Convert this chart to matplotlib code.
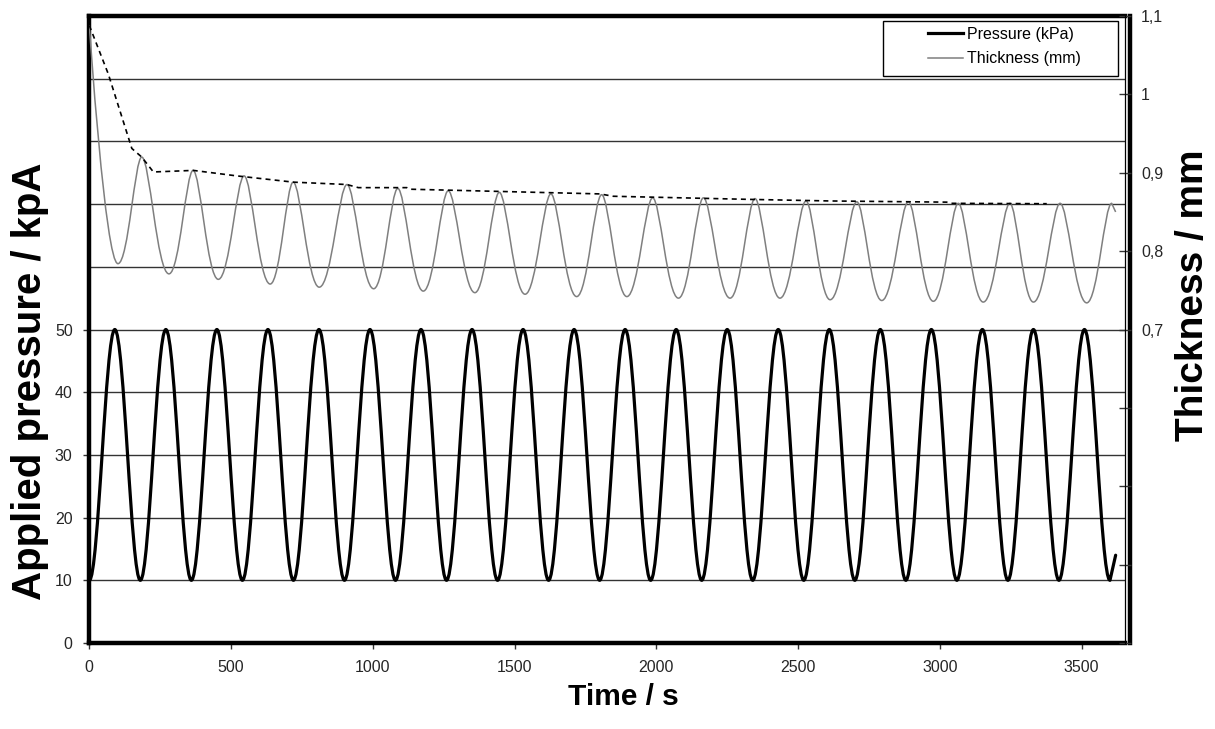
import matplotlib
matplotlib.use("Agg")
import matplotlib.pyplot as plt
from matplotlib.lines import Line2D
from matplotlib.patches import PathPatch, Rectangle
from matplotlib.path import Path

plt.rcParams['font.family'] = ['Liberation Sans', 'DejaVu Sans']

# Applied pressure: turning points of the 10-50 kPa load cycle (s, kPa).
# The record stops shortly after the last trough.
PRESSURE_T = [0, 90, 180, 270, 360, 450, 540, 630, 720, 810, 900, 990, 1080, 1170,
              1260, 1350, 1440, 1530, 1620, 1710, 1800, 1890, 1980, 2070, 2160, 2250,
              2340, 2430, 2520, 2610, 2700, 2790, 2880, 2970, 3060, 3150, 3240, 3330,
              3420, 3510, 3600, 3620]
PRESSURE_KPA = [10, 50, 10, 50, 10, 50, 10, 50, 10, 50, 10, 50, 10, 50,
                10, 50, 10, 50, 10, 50, 10, 50, 10, 50, 10, 50,
                10, 50, 10, 50, 10, 50, 10, 50, 10, 50, 10, 50,
                10, 50, 10, 14]

# Sample thickness: starting value, then alternating troughs / crests (s, mm)
THICKNESS_T = [0, 101, 185, 281, 366, 455, 546, 638, 719, 811, 909, 1003, 1088, 1178,
               1266, 1360, 1446, 1537, 1628, 1719, 1807, 1896, 1987, 2078, 2166, 2260,
               2348, 2436, 2528, 2613, 2707, 2795, 2889, 2977, 3065, 3153, 3247, 3330,
               3424, 3518, 3606, 3620]
THICKNESS_MM = [1.088, 0.784, 0.920, 0.771, 0.903, 0.764, 0.896, 0.758, 0.888, 0.754,
                0.885, 0.752, 0.880, 0.749, 0.877, 0.747, 0.875, 0.745, 0.873, 0.742,
                0.872, 0.742, 0.868, 0.740, 0.868, 0.740, 0.867, 0.740, 0.864, 0.738,
                0.863, 0.737, 0.863, 0.736, 0.861, 0.735, 0.861, 0.735, 0.861, 0.734,
                0.861, 0.850]

# dashed envelope over the thickness crests
ENVELOPE_T = [0, 67, 150, 185, 226, 367, 520, 720, 908, 949, 1120, 1131, 1801, 1848,
              2331, 2613, 3024, 3036, 3377]
ENVELOPE_MM = [1.088, 1.026, 0.931, 0.920, 0.901, 0.903, 0.896, 0.888, 0.885, 0.881,
               0.881, 0.879, 0.873, 0.870, 0.866, 0.864, 0.8625, 0.861, 0.8605]

X_TICKS = [0, 500, 1000, 1500, 2000, 2500, 3000, 3500]
PRESSURE_TICKS = [0, 10, 20, 30, 40, 50]
PRESSURE_GRID_ONLY = [60, 70, 80, 90]
THICKNESS_TICKS = [0.3, 0.4, 0.5, 0.6, 0.7, 0.8, 0.9, 1.0, 1.1]
THICKNESS_TICK_LABELS = ['', '', '', '', '0,7', '0,8', '0,9', '1', '1,1']

# Bezier handle length (fraction of a half-cycle) at a trough / at a crest.
# 0.3634 on both ends traces a half cosine; the thickness swings have broad
# troughs and narrower crests.
PRESSURE_HANDLES = (0.3634, 0.3634)
THICKNESS_HANDLES = (0.44, 0.29)


def wave_path(ts, vs, handles, sharp_start=False):
    """Smooth path through turning points; the final sample is joined straight."""
    k_low, k_high = handles
    verts = [(ts[0], vs[0])]
    codes = [Path.MOVETO]
    last = len(ts) - 1
    for i in range(1, len(ts)):
        t0, v0 = ts[i - 1], vs[i - 1]
        t1, v1 = ts[i], vs[i]
        if i == last:
            verts.append((t1, v1))
            codes.append(Path.LINETO)
            continue
        dt = t1 - t0
        k0 = k_low if v0 < v1 else k_high
        k1 = k_low if v1 < v0 else k_high
        c1 = (t0, v0) if (i == 1 and sharp_start) else (t0 + k0 * dt, v0)
        verts += [c1, (t1 - k1 * dt, v1), (t1, v1)]
        codes += [Path.CURVE4] * 3
    return Path(verts, codes)


W, H = 1215, 729
fig = plt.figure(figsize=(W / 100, H / 100), dpi=100)
ax = fig.add_axes([89.3 / W, 86 / H, 1035.7 / W, 627 / H])

ax.add_patch(PathPatch(wave_path(PRESSURE_T, PRESSURE_KPA, PRESSURE_HANDLES),
                       fill=False, edgecolor='black', lw=2.3, joinstyle='round',
                       capstyle='round', zorder=3))
ax.set_ylim(0, 100)
ax.set_yticks(PRESSURE_TICKS)
ax.set_yticks(PRESSURE_GRID_ONLY, minor=True)
ax.yaxis.grid(True, which='both', color='#333333', lw=1.0)
ax.set_xticks(X_TICKS)
ax.tick_params(axis='both', which='major', direction='out', length=4, width=1,
               color='#333333', labelsize=11.5, labelcolor='#262626', pad=8)
ax.tick_params(axis='y', which='minor', length=0)
for side in ['left', 'bottom', 'top', 'right']:
    ax.spines[side].set_linewidth(3.2)
ax.spines['right'].set_position(('outward', 3.5))

ax2 = ax.twinx()
ax2.add_patch(PathPatch(wave_path(THICKNESS_T, THICKNESS_MM, THICKNESS_HANDLES,
                                  sharp_start=True),
                        fill=False, edgecolor='#7f7f7f', lw=1.1,
                        joinstyle='round', zorder=3))
ax2.plot(ENVELOPE_T, ENVELOPE_MM, color='black', lw=1.2, ls=(0, (3, 2.5)), zorder=3)
ax2.set_ylim(0.3, 1.1)
ax2.set_yticks(THICKNESS_TICKS)
ax2.set_yticklabels(THICKNESS_TICK_LABELS)
ax2.tick_params(axis='y', direction='inout', length=9, width=1, color='#333333',
                labelsize=11.5, labelcolor='#262626', pad=7)
for side in ['left', 'bottom', 'top']:
    ax2.spines[side].set_visible(False)
ax2.spines['right'].set_linewidth(0.9)

# legend: boxed, content sitting in the middle of a wide frame
ax2.add_patch(Rectangle((0.7663, 0.9043), 0.2269, 0.0877, transform=ax2.transAxes,
                        facecolor='white', edgecolor='black', lw=1.0, zorder=4))
handles = [Line2D([], [], color='black', lw=2.3),
           Line2D([], [], color='#7f7f7f', lw=1.1)]
leg = ax2.legend(handles, ['Pressure (kPa)', 'Thickness (mm)'], loc='center left',
                 bbox_to_anchor=(0.8098, 0.9514), frameon=False, fontsize=11.5,
                 handlelength=2.2, handletextpad=0.25, labelspacing=0.6,
                 borderpad=0, borderaxespad=0)
leg.set_zorder(5)

ax.set_xlim(0, 3653)

fig.text(623 / W, 1 - 697 / H, 'Time / s', ha='center', va='center',
         fontsize=21.5, fontweight='bold')
fig.text(30 / W, 1 - 381 / H, 'Applied pressure / kpA', rotation=90,
         ha='center', va='center', fontsize=29, fontweight='bold')
fig.text(1193 / W, 1 - 295 / H, 'Thickness / mm', rotation=90,
         ha='center', va='center', fontsize=28, fontweight='bold')

fig.savefig('out.png', dpi=100)
